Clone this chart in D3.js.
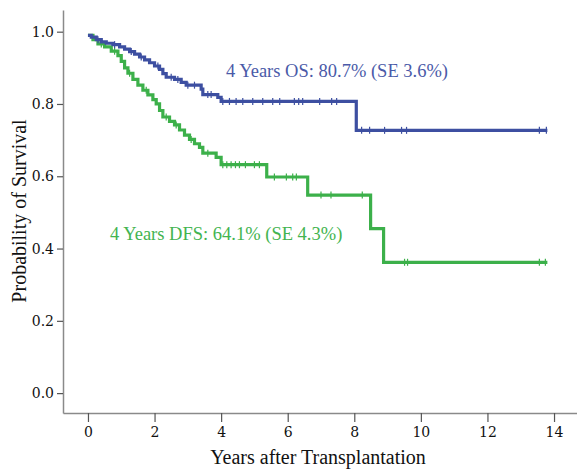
<!DOCTYPE html>
<html>
<head>
<meta charset="utf-8">
<script src="https://cdn.jsdelivr.net/npm/d3@7"></script>
<style>
  body { margin: 0; background: #fff; }
  svg { display: block; font-family: "Liberation Serif", serif; }
</style>
</head>
<body>
<div id="chart"></div>
<script>
// Kaplan-Meier steps: time (years) and survival after each drop
const osTimes = [0, 0.1, 0.25, 0.4, 0.55, 0.75, 0.95, 1.1, 1.25, 1.4, 1.55, 1.7, 1.85, 2.0, 2.15, 2.25, 2.35, 2.6, 2.8, 2.95, 3.4, 3.45, 3.9, 4.0, 8.06, 13.8];
const osSurv  = [0.99, 0.985, 0.978, 0.972, 0.968, 0.964, 0.958, 0.952, 0.945, 0.938, 0.93, 0.922, 0.914, 0.905, 0.896, 0.884, 0.874, 0.868, 0.86, 0.852, 0.841, 0.826, 0.818, 0.807, 0.727, 0.727];
const osCensored = [0.3, 0.8, 1.3, 1.6, 2.1, 2.5, 2.7, 3.0, 3.2, 3.6, 3.7, 4.05, 4.25, 4.45, 4.65, 4.95, 5.25, 5.55, 5.76, 6.2, 6.33, 6.45, 6.96, 7.32, 7.47, 8.22, 8.46, 8.91, 9.42, 9.57, 13.56, 13.77];

const dfsTimes = [0, 0.15, 0.3, 0.5, 0.7, 0.9, 1.0, 1.1, 1.2, 1.35, 1.5, 1.65, 1.8, 1.95, 2.05, 2.15, 2.25, 2.45, 2.6, 2.75, 2.9, 3.05, 3.2, 3.35, 3.45, 3.85, 4.0, 5.37, 6.6, 8.49, 8.88, 13.8];
const dfsSurv  = [0.99, 0.978, 0.966, 0.958, 0.946, 0.934, 0.918, 0.9, 0.885, 0.868, 0.852, 0.838, 0.825, 0.812, 0.8, 0.782, 0.764, 0.752, 0.742, 0.728, 0.714, 0.702, 0.69, 0.68, 0.664, 0.652, 0.632, 0.598, 0.548, 0.455, 0.362, 0.362];
const dfsCensored = [0.4, 0.8, 1.25, 1.75, 2.35, 2.65, 3.1, 3.6, 4.05, 4.17, 4.3, 4.43, 4.55, 4.73, 5.0, 5.15, 5.6, 5.96, 6.15, 6.26, 7.0, 7.3, 8.24, 9.51, 9.6, 13.56, 13.74];

const xTicks = [0, 2, 4, 6, 8, 10, 12, 14];
const yTicks = [0, 0.2, 0.4, 0.6, 0.8, 1.0];

const osLabel = "4 Years OS: 80.7% (SE 3.6%)";
const dfsLabel = "4 Years DFS: 64.1% (SE 4.3%)";

const width = 577, height = 469;
const blue = "#3d4fa1", green = "#3cb04a";

const svg = d3.select("#chart").append("svg")
  .attr("width", width)
  .attr("height", height);

const x = d3.scaleLinear().domain([-0.75, 14.72]).range([63, 578]);
const y = d3.scaleLinear().domain([-0.055, 1.06]).range([413, 10]);

// axes
const xAxis = svg.append("g")
  .attr("transform", `translate(0,${y.range()[0]})`)
  .call(d3.axisBottom(x).tickValues(xTicks).tickSize(9).tickSizeOuter(0).tickPadding(5));
const yAxis = svg.append("g")
  .attr("transform", `translate(${x.range()[0]},0)`)
  .call(d3.axisLeft(y).tickValues(yTicks).tickSize(6).tickSizeOuter(0).tickPadding(3).tickFormat(d3.format(".1f")));

[xAxis, yAxis].forEach(g => {
  g.select(".domain").attr("stroke", "#8a8a8a").attr("stroke-width", 1.5);
  g.selectAll(".tick line").attr("stroke", "#555").attr("stroke-width", 1.2);
  g.selectAll(".tick text").attr("fill", "#111").style("font-size", "14px").style("font-family", "DejaVu Serif");
});

// axis titles
svg.append("text")
  .attr("x", 318).attr("y", 464)
  .attr("text-anchor", "middle")
  .style("font-size", "20px").attr("fill", "#111")
  .text("Years after Transplantation");
svg.append("text")
  .attr("transform", "translate(26,211) rotate(-90)")
  .attr("text-anchor", "middle")
  .style("font-size", "20px").attr("fill", "#111")
  .text("Probability of Survival");

// step curves
const line = d3.line().x(d => x(d[0])).y(d => y(d[1])).curve(d3.curveStepAfter);
const survAt = (times, surv, t) => surv[d3.bisectRight(times, t) - 1];

function drawCurve(times, surv, censored, color) {
  const pts = times.map((t, i) => [t, surv[i]]);
  svg.append("path")
    .attr("d", line(pts))
    .attr("fill", "none")
    .attr("stroke", color)
    .attr("stroke-width", 3.2);
  svg.append("g").selectAll("line")
    .data(censored)
    .enter().append("line")
    .attr("x1", d => x(d)).attr("x2", d => x(d))
    .attr("y1", d => y(survAt(times, surv, d)) - 3.5)
    .attr("y2", d => y(survAt(times, surv, d)) + 3.5)
    .attr("stroke", color)
    .attr("stroke-width", 1.2);
}

drawCurve(dfsTimes, dfsSurv, dfsCensored, green);
drawCurve(osTimes, osSurv, osCensored, blue);

// annotations
svg.append("text")
  .attr("x", 226).attr("y", 77)
  .style("font-size", "18.5px").attr("fill", "#4a5aa8")
  .text(osLabel);
svg.append("text")
  .attr("x", 110).attr("y", 240)
  .style("font-size", "18.5px").attr("fill", "#43b450")
  .text(dfsLabel);
</script>
</body>
</html>
